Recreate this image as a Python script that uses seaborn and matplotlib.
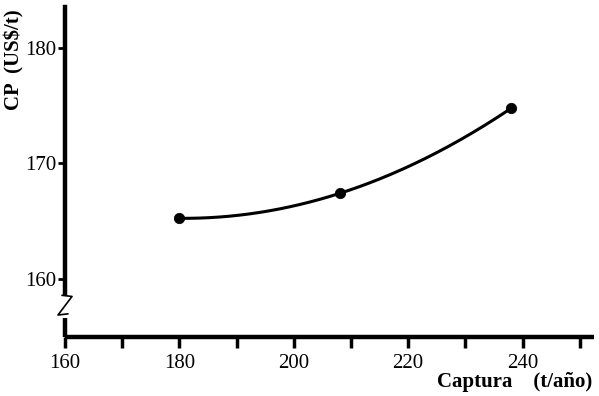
import numpy as np
import pandas as pd
import matplotlib
matplotlib.use("Agg")
import matplotlib.pyplot as plt
import seaborn as sns

# data
captura = [180, 208, 238]
cp = [165.25, 167.4, 174.75]
x_major = [160, 180, 200, 220, 240]
x_minor = [170, 190, 210, 230, 250]
y_major = [160, 170, 180]

sns.set_theme(style="white")
plt.rcParams['font.family'] = ['Liberation Serif', 'DejaVu Serif']
plt.rcParams['axes.edgecolor'] = 'black'

fig = plt.figure(figsize=(5.99, 3.96), dpi=100)
ax = fig.add_axes([65/599, 1 - 337/396, (594-65)/599, (337-7)/396])

df = pd.DataFrame({"Captura": captura, "CP": cp})
coef = np.polyfit(df["Captura"], df["CP"], 2)
xs = np.linspace(min(captura), max(captura), 200)
curve = pd.DataFrame({"x": xs, "y": np.polyval(coef, xs)})
sns.lineplot(data=curve, x="x", y="y", ax=ax, color="black", lw=2.2)
sns.scatterplot(data=df, x="Captura", y="CP", ax=ax, color="black", s=55,
                edgecolor="black", zorder=5)

ax.set_xlim(160, 252.5)
ax.set_ylim(155, 183.5)

for s in ["top", "right"]:
    ax.spines[s].set_visible(False)
ax.spines["bottom"].set_linewidth(3.2)
ax.spines["left"].set_linewidth(3.2)
ax.spines["bottom"].set_color("black")
ax.spines["left"].set_color("black")
ax.spines["left"].set_bounds(158.8, 183.5)
ax.spines["bottom"].set_capstyle("butt")

ax.set_xticks(x_major)
ax.set_xticks(x_minor, minor=True)
ax.set_yticks(y_major)
ax.tick_params(axis="x", which="both", direction="out", length=8, width=2.5,
               color="black", labelsize=15, pad=4, bottom=True)
ax.tick_params(axis="y", which="major", direction="out", length=5, width=2,
               color="black", labelsize=15, pad=1, left=True)
for lab in ax.get_xticklabels() + ax.get_yticklabels():
    lab.set_color("black")

ax.set_xlabel("")
ax.set_ylabel("")

# lower left spine segment and break mark (decoration)
tr = ax.get_yaxis_transform()
ax.plot([0, 0], [155, 156.6], transform=tr, color="black", lw=3.2,
        solid_capstyle="butt", clip_on=False)
px = 1 / (594 - 65)
ax.plot([-3*px, 7*px, -7*px, 3*px], [158.6, 158.5, 156.9, 157.0],
        transform=tr, color="black", lw=1.2, clip_on=False)

fig.text(14/599, 1 - 60/396, "CP  (US$/t)", rotation=90, fontsize=15,
         fontweight="bold", ha="center", va="center", color="black")
fig.text(592/599, 1 - 382/396, "Captura    (t/año)", fontsize=15,
         fontweight="bold", ha="right", va="center", color="black")

fig.savefig("out.png", dpi=100)
